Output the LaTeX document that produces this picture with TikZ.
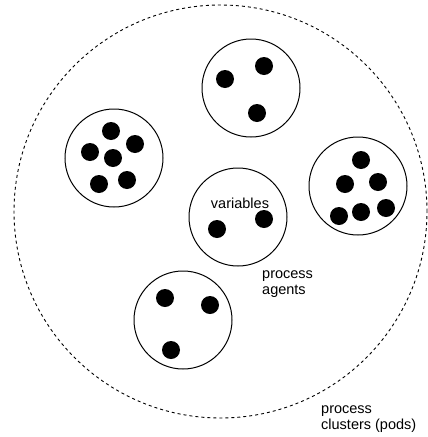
\documentclass[tikz,border=0pt]{standalone}
\usepackage{fontspec}
\setmainfont{Liberation Sans}
\usetikzlibrary{positioning}
\tikzset{
    cluster/.style={
        circle,
        draw=black,
        dash pattern=on 3pt off 3pt,
        line width=0.9pt,
        minimum size=413pt,
        inner sep=0pt
    },
    agent/.style={
        circle,
        draw=black,
        line width=1pt,
        minimum size=98pt,
        inner sep=0pt
    },
    vardot/.style={
        circle,
        fill=black,
        minimum size=18pt,
        inner sep=0pt
    },
    textlabel/.style={
        align=left,
        anchor=west,
        inner sep=0pt,
        font=\fontsize{14.5}{16}\selectfont
    }
}

\begin{document}
\begin{tikzpicture}[x=1pt,y=-1pt]
\useasboundingbox (0,0) rectangle (428,437);

% Pod
\node (pod) [cluster] at (220.5,211.5) {};

% Agents
\node (agenttop) [agent] at (251,88) {};
\node (agentleft) [agent] at (114,158) {};
\node (agentmid) [agent] at (238,217) {};
\node (agentright) [agent] at (358,186) {};
\node (agentbottom) [agent] at (183,320) {};

% Variables
\foreach \x/\y [count=\i] in {225/79, 264/66, 257/113,
                              111/131, 135/144, 90/152, 113/158, 99/184, 127/180,
                              217/229, 264/219,
                              361/160, 345/184, 378/182, 339/216, 361/212, 386/208,
                              165/298, 210/305, 171/350}
    \node (var\i) [vardot] at (\x,\y) {};

% Labels
\node (varlabel) [font=\fontsize{14.5}{16}\selectfont, inner sep=0pt] at (240,203) {variables};
\node (agentlabel) [textlabel] at (262,284) {process\\agents};
\node (podlabel) [textlabel] at (321,419.5) {process\\clusters (pods)};

\end{tikzpicture}
\end{document}
